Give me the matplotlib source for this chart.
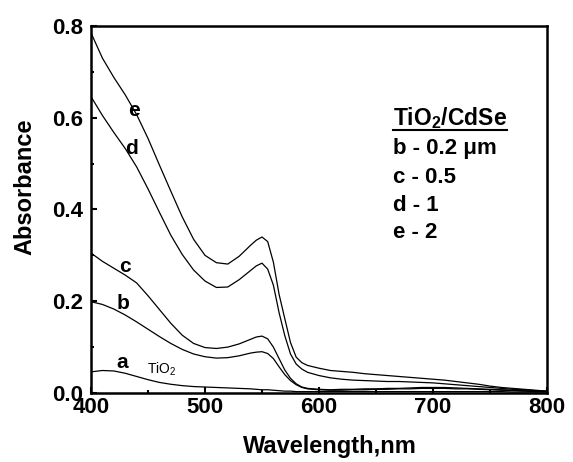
#!/usr/bin/env python3
# -*- coding: utf-8 -*-
"""
TiO2 / CdSe 膜の吸収スペクトル (a - e) を再現して out.png に保存する。
"""
import numpy as np
import matplotlib
matplotlib.use("Agg")
import matplotlib.pyplot as plt
from matplotlib.lines import Line2D
from matplotlib.ticker import MultipleLocator

plt.rcParams["font.family"] = ["Liberation Sans", "DejaVu Sans"]
plt.rcParams["font.weight"] = "bold"
plt.rcParams["mathtext.default"] = "regular"

# 波長 (nm)
wavelength = [400, 410, 420, 430, 440, 450, 460, 470, 480, 490,
              500, 510, 520, 530, 540, 545, 550, 555, 560, 565,
              570, 575, 580, 585, 590, 600, 610, 620, 630, 640,
              650, 660, 670, 680, 690, 700, 710, 720, 730, 740,
              750, 760, 770, 780, 790, 800]

# 吸光度
abs_e = [0.785, 0.730, 0.688, 0.650, 0.607, 0.555, 0.497, 0.440, 0.384, 0.335,
         0.300, 0.284, 0.281, 0.298, 0.322, 0.333, 0.340, 0.330, 0.285, 0.215,
         0.162, 0.110, 0.078, 0.066, 0.060, 0.054, 0.049, 0.047, 0.045, 0.042,
         0.040, 0.038, 0.036, 0.034, 0.032, 0.030, 0.028, 0.025, 0.022, 0.019,
         0.015, 0.012, 0.010, 0.008, 0.006, 0.004]

abs_d = [0.646, 0.605, 0.568, 0.533, 0.493, 0.445, 0.394, 0.344, 0.302, 0.268,
         0.244, 0.230, 0.231, 0.247, 0.267, 0.277, 0.283, 0.270, 0.235, 0.175,
         0.125, 0.085, 0.063, 0.052, 0.045, 0.038, 0.033, 0.030, 0.028, 0.027,
         0.026, 0.025, 0.025, 0.024, 0.023, 0.022, 0.020, 0.018, 0.016, 0.014,
         0.012, 0.010, 0.008, 0.007, 0.005, 0.004]

abs_c = [0.305, 0.287, 0.272, 0.257, 0.240, 0.212, 0.182, 0.152, 0.126, 0.108,
         0.099, 0.097, 0.100, 0.107, 0.117, 0.122, 0.124, 0.118, 0.100, 0.075,
         0.050, 0.032, 0.020, 0.013, 0.010, 0.008, 0.007, 0.008, 0.008, 0.009,
         0.009, 0.010, 0.010, 0.011, 0.012, 0.012, 0.012, 0.011, 0.010, 0.009,
         0.008, 0.007, 0.006, 0.005, 0.004, 0.003]

abs_b = [0.199, 0.193, 0.183, 0.170, 0.155, 0.139, 0.123, 0.108, 0.095, 0.085,
         0.079, 0.076, 0.077, 0.081, 0.087, 0.089, 0.090, 0.086, 0.075, 0.057,
         0.040, 0.027, 0.018, 0.012, 0.009, 0.007, 0.006, 0.006, 0.007, 0.007,
         0.008, 0.008, 0.009, 0.009, 0.010, 0.010, 0.010, 0.009, 0.009, 0.008,
         0.007, 0.006, 0.005, 0.004, 0.003, 0.003]

abs_a = [0.046, 0.049, 0.048, 0.043, 0.036, 0.029, 0.023, 0.019, 0.016, 0.014,
         0.013, 0.012, 0.011, 0.010, 0.009, 0.008, 0.007, 0.007, 0.006, 0.005,
         0.004, 0.004, 0.003, 0.003, 0.003, 0.003, 0.003, 0.003, 0.003, 0.003,
         0.003, 0.003, 0.003, 0.003, 0.003, 0.003, 0.003, 0.003, 0.003, 0.003,
         0.003, 0.003, 0.002, 0.002, 0.002, 0.002]

curves = [abs_a, abs_b, abs_c, abs_d, abs_e]

# 曲線ラベル (文字, 波長, 吸光度のベースライン)
curve_labels = ["a", "b", "c", "d", "e"]
label_x = [427, 428.5, 430, 435.5, 437.5]
label_y = [0.055, 0.182, 0.264, 0.521, 0.603]

legend_title = "TiO$_2$/CdSe"
legend_lines = ["b - 0.2 \u03bcm", "c - 0.5", "d - 1", "e - 2"]
legend_y = [0.521, 0.458, 0.397, 0.337]


def main():
    fig = plt.figure(figsize=(5.73, 4.62), dpi=100)
    ax = fig.add_axes([0.1588, 0.1494, 0.7958, 0.7944])

    for y in curves:
        ax.plot(wavelength, y, color="black", lw=0.9)

    ax.set_xlim(400, 800)
    ax.set_ylim(0.0, 0.8)
    ax.xaxis.set_major_locator(MultipleLocator(100))
    ax.xaxis.set_minor_locator(MultipleLocator(50))
    ax.yaxis.set_major_locator(MultipleLocator(0.2))
    ax.yaxis.set_minor_locator(MultipleLocator(0.1))
    ax.yaxis.set_major_formatter(plt.FormatStrFormatter("%.1f"))

    for sp in ax.spines.values():
        sp.set_linewidth(1.8)

    ax.tick_params(axis="both", which="major", direction="in", length=4.5,
                   width=1.5, labelsize=16)
    ax.tick_params(axis="both", which="minor", direction="in", length=2.5,
                   width=1.5)
    ax.tick_params(axis="x", which="major", pad=3)
    ax.tick_params(axis="y", which="major", pad=6)
    for lab in ax.get_xticklabels() + ax.get_yticklabels():
        lab.set_fontweight("bold")

    ax.set_xlabel("Wavelength,nm", fontsize=17, fontweight="bold")
    ax.set_ylabel("Absorbance", fontsize=17, fontweight="bold")
    ax.xaxis.set_label_coords(0.524, -0.146)
    ax.yaxis.set_label_coords(-0.145, 0.561)
    ax.xaxis.label.set_va("center")
    ax.yaxis.label.set_va("center")

    for t, x, y in zip(curve_labels, label_x, label_y):
        ax.text(x, y, t, fontsize=15, fontweight="bold",
                ha="center", va="baseline")
    ax.text(448.8, 0.043, "TiO$_2$", fontsize=10, fontweight="normal",
            ha="left", va="baseline")

    title = ax.text(665, 0.584, legend_title, fontsize=16.5, fontweight="bold",
                    ha="left", va="baseline")
    for t, y in zip(legend_lines, legend_y):
        ax.text(665, y, t, fontsize=16, fontweight="bold",
                ha="left", va="baseline")

    # 下線 (TiO2/CdSe)
    fig.canvas.draw()
    bb = title.get_window_extent()
    uy = bb.y0 + 1.0
    fig.add_artist(Line2D([bb.x0 / fig.bbox.width, bb.x1 / fig.bbox.width],
                          [uy / fig.bbox.height, uy / fig.bbox.height],
                          color="black", lw=1.5))

    fig.savefig("out.png", dpi=100)


if __name__ == "__main__":
    main()
